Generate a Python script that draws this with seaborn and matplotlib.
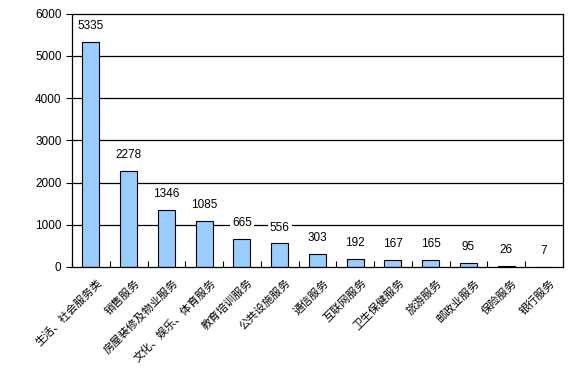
import matplotlib
matplotlib.use("Agg")
import matplotlib.pyplot as plt
import seaborn as sns
import numpy as np

categories = ["生活、社会服务类", "销售服务", "房屋装修及物业服务", "文化、娱乐、体育服务",
              "教育培训服务", "公共设施服务", "通信服务", "互联网服务", "卫生保健服务",
              "旅游服务", "邮政业服务", "保险服务", "银行服务"]
values = [5335, 2278, 1346, 1085, 665, 556, 303, 192, 167, 165, 95, 26, 7]

sns.set_style("white")
plt.rcParams['font.family'] = ['Liberation Sans', 'Noto Sans CJK SC']
plt.rcParams['text.color'] = 'black'
plt.rcParams['ytick.color'] = 'black'
plt.rcParams['xtick.color'] = 'black'

fig = plt.figure(figsize=(5.76, 3.84), dpi=100)
ax = fig.add_axes([0.125, 0.305, 0.852, 0.659])

x = np.arange(len(categories))
sns.barplot(x=x, y=values, ax=ax, color="#99CCFF", saturation=1,
            edgecolor="black", linewidth=0.8, width=0.45, native_scale=True)

ax.set_xlim(-0.5, len(categories) - 0.5)
ax.set_ylim(0, 6000)
ax.set_yticks(range(0, 6001, 1000))
ax.tick_params(axis='y', labelsize=8.5, length=4, direction='out', left=True)
for y in range(1000, 6000, 1000):
    ax.axhline(y, color='black', lw=0.9, zorder=0)

ax.set_xticks(np.arange(-0.5, len(categories), 1.0))
ax.set_xticklabels([])
ax.tick_params(axis='x', length=4, direction='in', bottom=True)
for i, c in enumerate(categories):
    ax.text(i + 0.15, -250, c, rotation=45, ha='right', va='top', fontsize=8,
            rotation_mode='anchor', family=['Noto Sans CJK SC'])

for s in ax.spines.values():
    s.set_color('black')
    s.set_linewidth(0.9)

for i, v in enumerate(values):
    ax.text(i, v + 230, str(v), ha='center', va='bottom', fontsize=8.5, zorder=5,
            bbox=dict(facecolor='white', edgecolor='none', pad=1.5))

ax.set_xlabel("")
ax.set_ylabel("")
fig.savefig("out.png", dpi=100)
